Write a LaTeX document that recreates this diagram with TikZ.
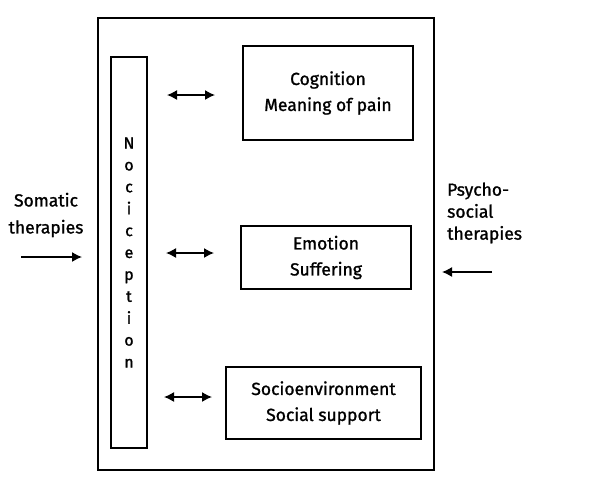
\documentclass[tikz,border=0pt]{standalone}
\usepackage{fontspec}
\setmainfont{Fira Sans}[FakeBold=1.2,AutoFakeBold=1.2]
\usetikzlibrary{arrows.meta}
\begin{document}
\begin{tikzpicture}[x=1pt,y=-1pt,
  box/.style={draw, line width=1.4pt, inner sep=0pt},
  lbl/.style={font=\fontsize{17.5}{26}\selectfont\bfseries, align=center, inner sep=0pt},
  tip/.tip={Latex[length=10pt,width=10pt]},
  arr/.style={line width=1.4pt, -tip},
  darr/.style={line width=1.4pt, tip-tip}]
\fill[white] (0,0) rectangle (590,480);
\useasboundingbox (0,0) rectangle (590,480);
% outer frame
\node[box, minimum width=336pt, minimum height=452pt] (outer) at (266,244) {};
% nociception column
\node[box, minimum width=36pt, minimum height=391pt, align=center,
      font=\fontsize{16}{21.9}\selectfont\bfseries] (noc) at (129,252.5)
      {N\\o\\c\\i\\c\\e\\p\\t\\i\\o\\n};
% right boxes
\node[box, minimum width=170pt, minimum height=94pt, lbl] (cog) at (328,93)
      {Cognition\\Meaning of pain};
\node[box, minimum width=170pt, minimum height=63pt, lbl] (emo) at (326,257.5)
      {Emotion\\Suffering};
\node[box, minimum width=195pt, minimum height=72pt, lbl] (soc) at (323.5,403)
      {Socioenvironment\\Social support};
% double arrows
\coordinate (a1) at (167,95);  \coordinate (b1) at (215,95);
\coordinate (a2) at (166,253); \coordinate (b2) at (214,253);
\coordinate (a3) at (164,397); \coordinate (b3) at (212,397);
\draw[darr] (a1) -- (b1);
\draw[darr] (a2) -- (b2);
\draw[darr] (a3) -- (b3);
% left therapies
\node[lbl, font=\fontsize{17.5}{27}\selectfont\bfseries] (som) at (46,215) {Somatic\\therapies};
\coordinate (s1) at (21,257); \coordinate (s2) at (82,257);
\draw[arr] (s1) -- (s2);
% right therapies
\node[lbl, align=left, anchor=west, font=\fontsize{17.5}{22}\selectfont\bfseries] (psy) at (447,213) {Psycho-\\social\\therapies};
\coordinate (p1) at (492,272); \coordinate (p2) at (442,272);
\draw[arr] (p1) -- (p2);
\end{tikzpicture}
\end{document}
